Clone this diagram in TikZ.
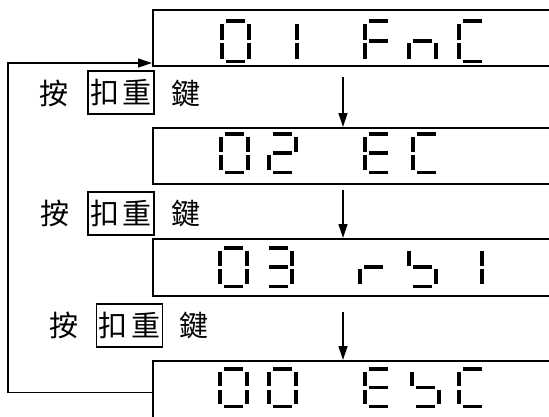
\documentclass[tikz,border=0pt]{standalone}
\usepackage{fontspec}
\newfontfamily\cjk{Noto Sans CJK TC}
\usetikzlibrary{arrows.meta}

\def\segH{44}
\newcommand\segA{\fill (6,0) rectangle (25,3.5);}
\newcommand\segB{\fill (27,4.5) rectangle (31,\segH/2-1.5);}
\newcommand\segC{\fill (27,\segH/2+2) rectangle (31,\segH-4.5);}
\newcommand\segD{\fill (6,\segH-3.5) rectangle (25,\segH);}
\newcommand\segE{\fill (0,\segH/2+2) rectangle (4,\segH-4.5);}
\newcommand\segF{\fill (0,4.5) rectangle (4,\segH/2-1.5);}
\newcommand\segG{\fill (6,\segH/2-2) rectangle (25,\segH/2+1.5);}
\newcommand\sevseg[3]{\begin{scope}[shift={(#1,#2)}]#3\end{scope}}
\newcommand\dgZero{\segA\segB\segC\segD\segE\segF}
\newcommand\dgOne{\segB\segC}
\newcommand\dgTwo{\segA\segB\segG\segE\segD}
\newcommand\dgThree{\segA\segB\segG\segC\segD}
\newcommand\dgF{\segA\segF\segE\segG}
\newcommand\dgn{\segE\segG\segC}
\newcommand\dgC{\segA\segF\segE\segD}
\newcommand\dgE{\segA\segF\segE\segG\segD}
\newcommand\dgr{\segE\segG}
\newcommand\dgS{\segF\segG\segC\segD}

\begin{document}
\begin{tikzpicture}[x=1pt,y=-1pt,
  dispbox/.style={draw, line width=1.5pt, minimum width=420pt, inner sep=0pt, anchor=north west},
  keybox/.style={draw, line width=1.3pt, minimum width=66pt, minimum height=43pt, inner sep=0pt, font=\cjk\fontsize{29}{29}\selectfont},
  lbl/.style={inner sep=0pt, font=\cjk\fontsize{29}{29}\selectfont},
  arr/.style={line width=1.3pt, -{Triangle[length=14pt,width=9pt]}}]
\useasboundingbox (0,0) rectangle (549,416);

% display boxes
\node[dispbox, minimum height=56pt] (b1) at (152,9) {};
\node[dispbox, minimum height=56pt] (b2) at (152,127) {};
\node[dispbox, minimum height=57pt] (b3) at (152,238) {};
\node[dispbox, minimum height=64pt] (b4) at (152,360) {};

% digits box 1
\def\segH{44}
\sevseg{220}{19}{\dgZero}
\sevseg{268}{19}{\dgOne}
\sevseg{363}{19}{\dgF}
\sevseg{407}{19}{\dgn}
\sevseg{457}{19}{\dgC}
% box 2
\def\segH{42}
\sevseg{219}{132}{\dgZero}
\sevseg{267}{132}{\dgTwo}
\sevseg{363}{132}{\dgE}
\sevseg{411}{132}{\dgC}
% box 3
\sevseg{218}{246}{\dgZero}
\sevseg{263}{246}{\dgThree}
\sevseg{358}{246}{\dgr}
\sevseg{407}{246}{\dgS}
\sevseg{453}{246}{\dgOne}
% box 4
\def\segH{41}
\sevseg{218}{367}{\dgZero}
\sevseg{267}{367}{\dgZero}
\sevseg{363}{367}{\dgE}
\sevseg{410}{367}{\dgS}
\sevseg{457}{367}{\dgC}

% labels
\node[lbl] (p1) at (53.5,93) {按};
\node[keybox] (k1) at (121,92.5) {扣\hspace{3.5pt}重};
\node[lbl] (q1) at (186,93) {鍵};
\node[lbl] (p2) at (55,213.5) {按};
\node[keybox] (k2) at (121,213.5) {扣\hspace{3.5pt}重};
\node[lbl] (q2) at (186,213.5) {鍵};
\node[lbl] (p3) at (63.5,325.5) {按};
\node[keybox] (k3) at (129.5,325.5) {扣\hspace{3.5pt}重};
\node[lbl] (q3) at (194,325.5) {鍵};

% arrows
\coordinate (s1) at (343,77);
\coordinate (s2) at (343,190);
\coordinate (s3) at (343,312);
\draw[arr] (s1) -- (s1 |- b2.north);
\draw[arr] (s2) -- (s2 |- b3.north);
\draw[arr] (s3) -- (s3 |- b4.north);

% loop back
\coordinate (lp) at (8,63);
\coordinate (b1in) at (152,63);
\draw[arr] (b4.west) -| (lp) -- (b1in);
\end{tikzpicture}
\end{document}
